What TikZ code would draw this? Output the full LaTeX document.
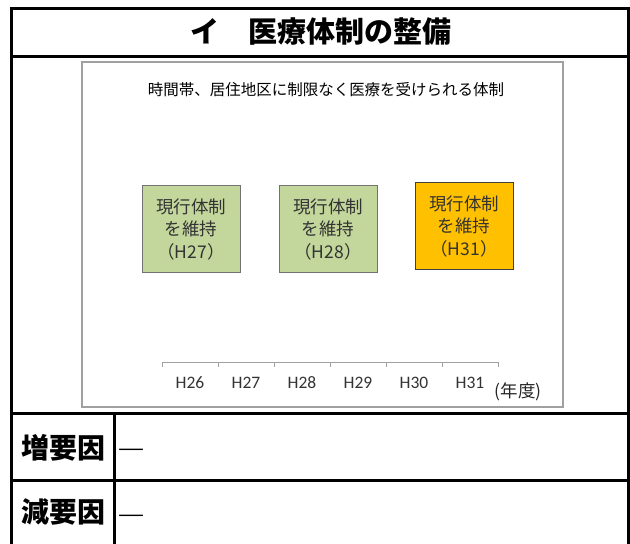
\documentclass[tikz,border=0pt]{standalone}
\usepackage{fontspec}
\newfontfamily\cjk{Noto Sans CJK JP}
\newfontfamily\axisfont{Carlito}
\usetikzlibrary{positioning}
\definecolor{keepgreen}{HTML}{C3D69B}
\definecolor{keeporange}{HTML}{FFC000}
\definecolor{chartgray}{HTML}{A0A0A0}
\tikzset{
  frame/.style={line width=3pt},
  keepbox/.style={draw=black!55,line width=0.8pt,minimum width=98pt,minimum height=87pt,
    align=center,text=black!80,font=\cjk\fontsize{17.5}{22.5}\selectfont},
  yearlabel/.style={font=\axisfont\fontsize{17.5}{17.5}\selectfont,text=black!80},
  rowlabel/.style={font=\cjk\bfseries\fontsize{28}{28}\selectfont},
  nonedash/.style={font=\cjk\bfseries\fontsize{28}{28}\selectfont,anchor=west,inner sep=0pt}
}
\begin{document}
\begin{tikzpicture}[x=1pt,y=-1pt]
    \useasboundingbox (0,0) rectangle (630,544);
    \begin{scope}
        \clip (0,0) rectangle (630,544);
        \draw[frame] (11,550) -- (11,8) -- (628,8) -- (628,550);
        \draw[frame] (11,56) -- (628,56);
        \draw[frame] (11,413) -- (628,413);
        \draw[frame] (11,480) -- (628,480);
        \draw[frame] (114,413) -- (114,550);
    \end{scope}
    \node[font=\cjk\bfseries\fontsize{29}{29}\selectfont] (title) at (321,32) {イ　医療体制の整備};
    \draw[chartgray, line width=1.2pt] (82,62) rectangle (563,407);
    \node[font=\cjk\fontsize{15.5}{15.5}\selectfont] (charttitle) at (326,90) {時間帯、居住地区に制限なく医療を受けられる体制};
    \node[keepbox, fill=keepgreen] (keep27) at (191,229) {現行体制\\を維持\\（H27）};
    \node[keepbox, fill=keepgreen] (keep28) at (328,229) {現行体制\\を維持\\（H28）};
    \node[keepbox, fill=keeporange, draw=black!75] (keep31) at (464,226) {現行体制\\を維持\\（H31）};
    \draw[chartgray, line width=0.8pt] (162,367) -- (162,362) -- (498,362) -- (498,367)
        (218,362) -- (218,367) (274,362) -- (274,367) (330,362) -- (330,367)
        (386,362) -- (386,367) (442,362) -- (442,367);
    \node[yearlabel] (h26) at (190,383) {H26};
    \node[yearlabel] (h27) at (246,383) {H27};
    \node[yearlabel] (h28) at (302,383) {H28};
    \node[yearlabel] (h29) at (358,383) {H29};
    \node[yearlabel] (h30) at (414,383) {H30};
    \node[yearlabel] (h31) at (470,383) {H31};
    \node[font=\cjk\fontsize{17.5}{17.5}\selectfont, text=black!85] (unit) at (518,392) {(年度)};
    \node[rowlabel] (inclabel) at (63,448) {増要因};
    \node[rowlabel] (declabel) at (63,512) {減要因};
    \node[nonedash] (incdash) at (117,455) {―};
    \node[nonedash] (decdash) at (117,521) {―};
\end{tikzpicture}
\end{document}
